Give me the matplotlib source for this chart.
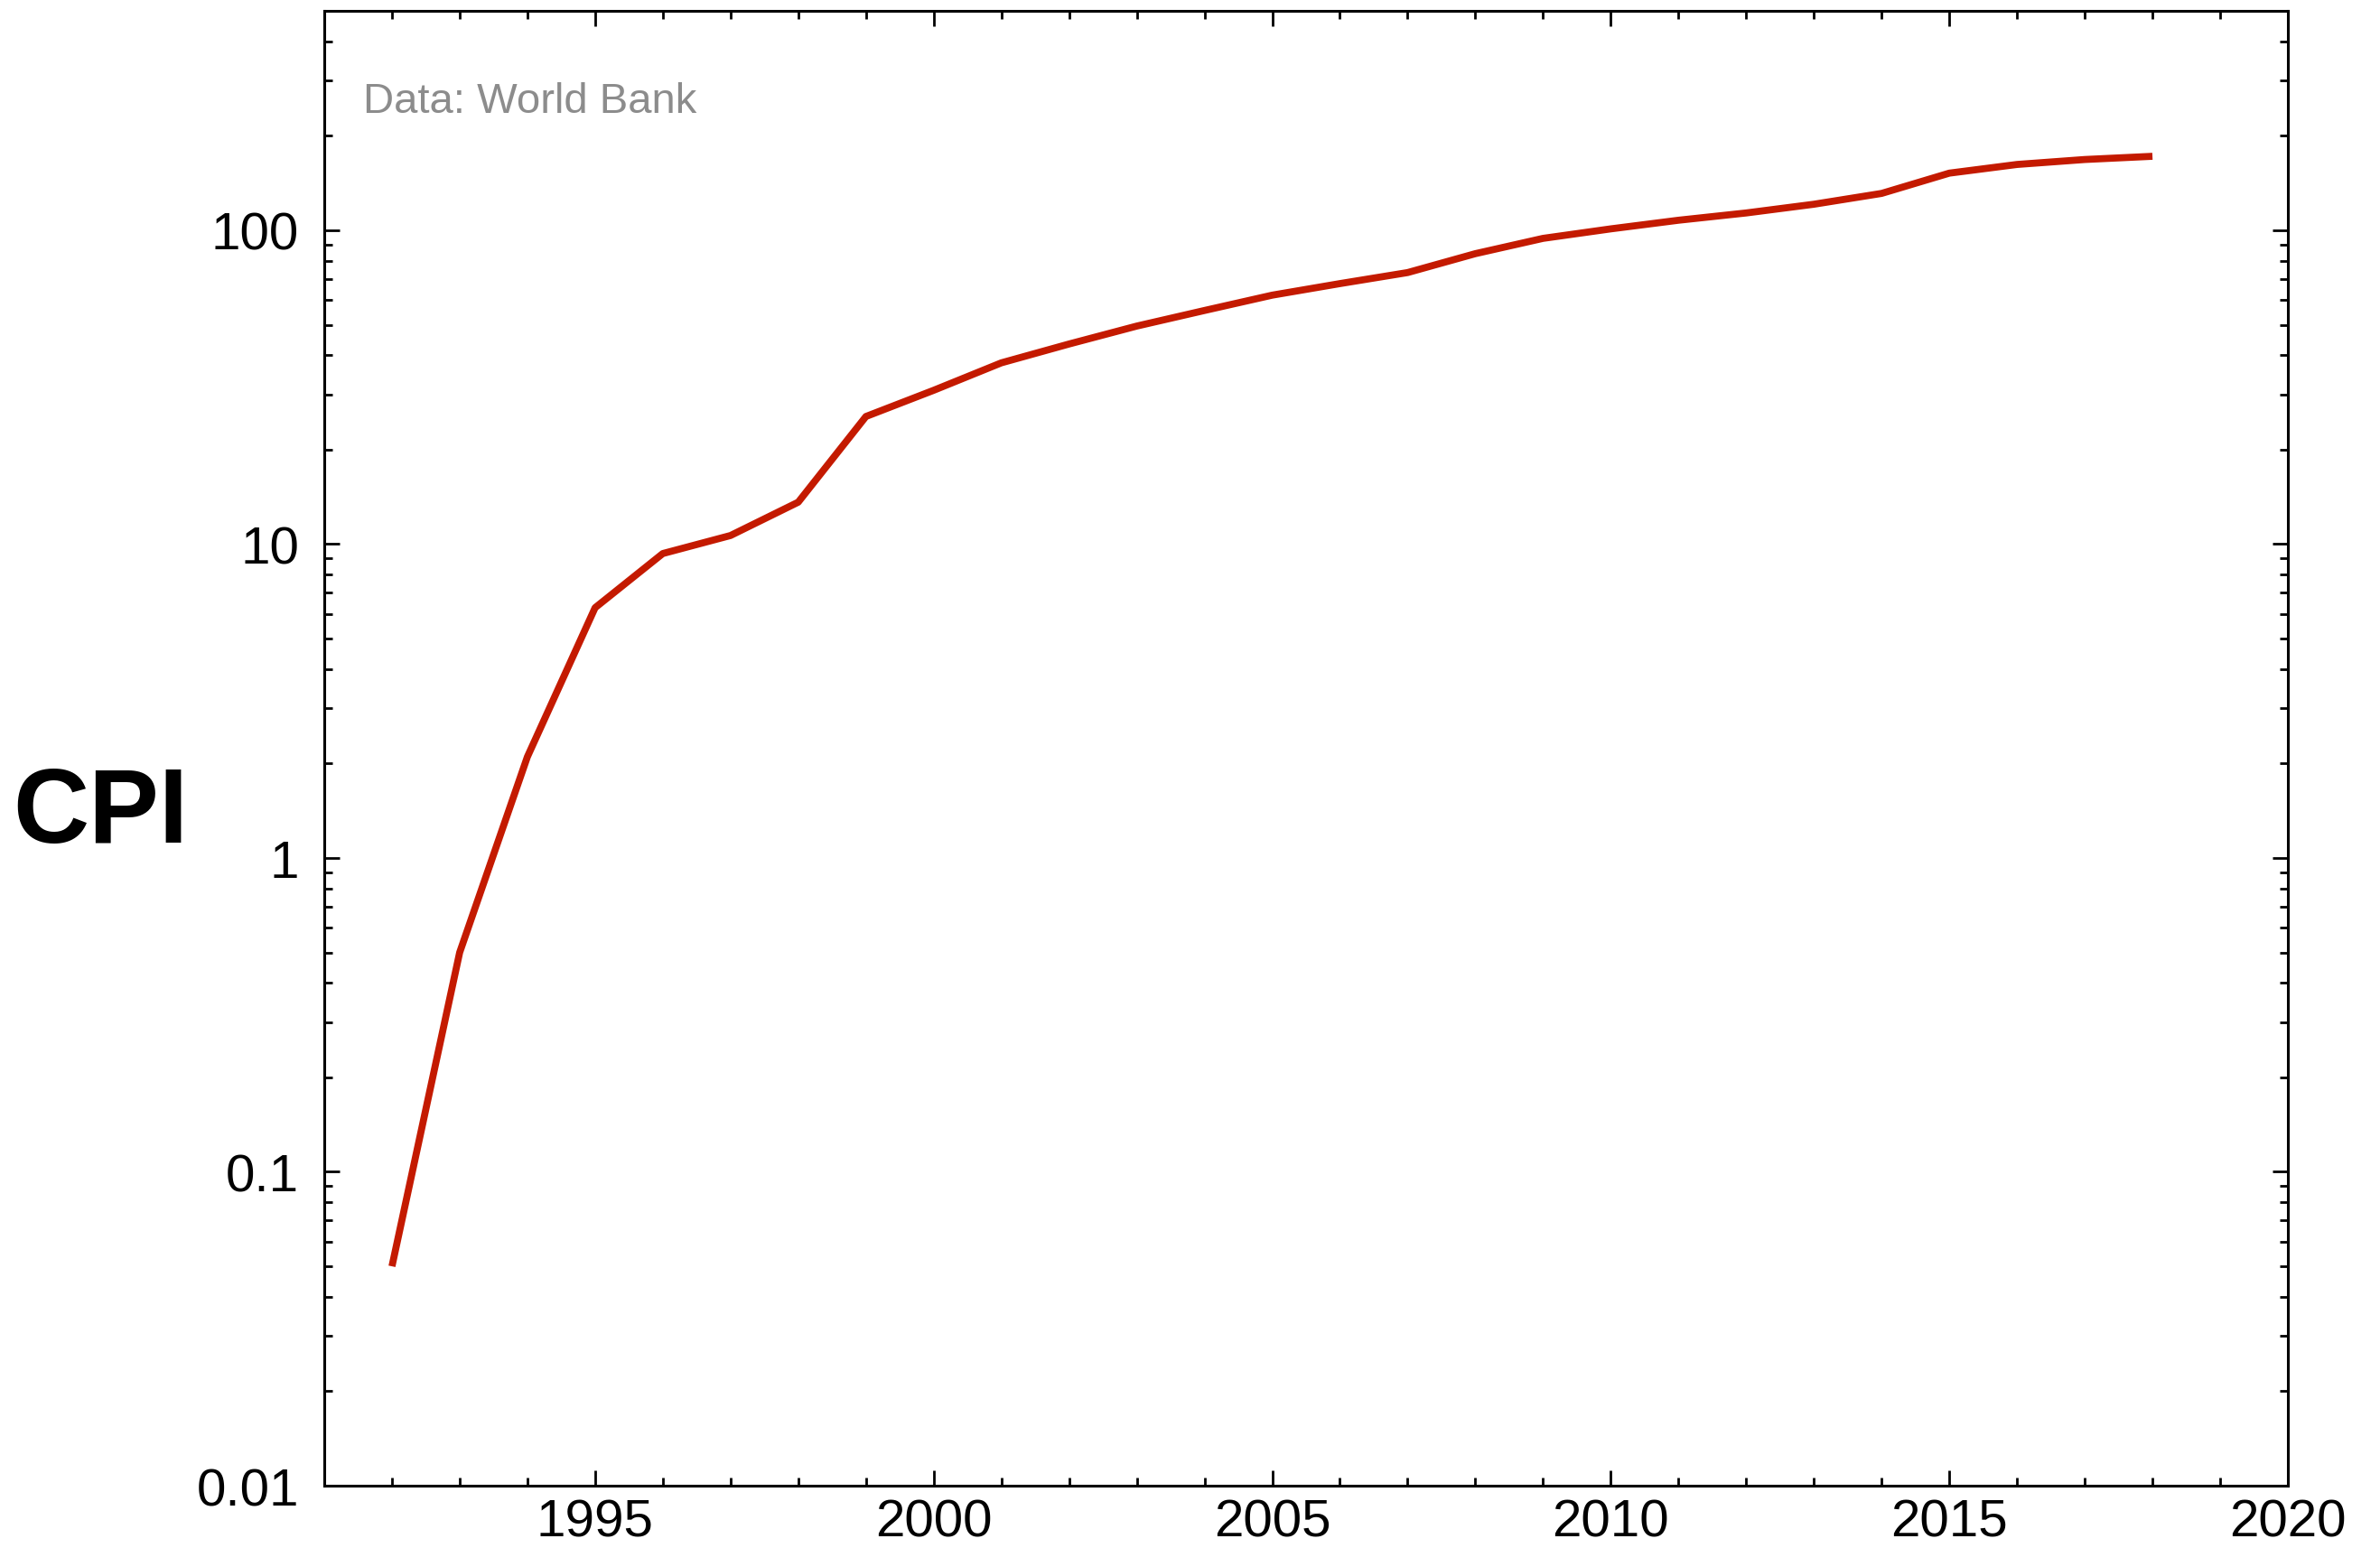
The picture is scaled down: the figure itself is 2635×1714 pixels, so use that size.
import matplotlib
matplotlib.use("Agg")
import matplotlib.pyplot as plt
from matplotlib.ticker import FixedLocator, NullFormatter, MultipleLocator

plt.rcParams['font.family'] = ['Liberation Sans', 'DejaVu Sans']

years = list(range(1992, 2019))
cpi = [0.05, 0.50, 2.10, 6.27, 9.33, 10.65, 13.6, 25.5, 30.9, 37.8, 43.4, 49.5,
       55.5, 62.1, 67.6, 73.3, 84.2, 94.2, 101, 107.6, 113.5, 121, 131, 152,
       162, 168, 172]

ytick_vals = [0.01, 0.1, 1, 10, 100]
ytick_labels = ["0.01", "0.1", "1", "10", "100"]
xtick_vals = [1995, 2000, 2005, 2010, 2015, 2020]
xtick_labels = ["1995", "2000", "2005", "2010", "2015", "2020"]

fig = plt.figure(figsize=(13.175, 8.575), dpi=200)
ax = fig.add_axes([0.13624, 0.04023, 0.82505, 0.95219])

ax.plot(years, cpi, color="#C41A00", lw=2.8, solid_capstyle="butt", solid_joinstyle="round")

ax.set_yscale("log")
ax.set_ylim(0.01, 500)
ax.set_xlim(1991, 2020)

ax.yaxis.set_major_locator(FixedLocator(ytick_vals))
ax.set_yticklabels(ytick_labels)
minor = [m * 10.0**e for e in range(-2, 3) for m in range(2, 10)]
ax.yaxis.set_minor_locator(FixedLocator(minor))
ax.yaxis.set_minor_formatter(NullFormatter())

ax.xaxis.set_major_locator(FixedLocator(xtick_vals))
ax.set_xticklabels(xtick_labels)
ax.xaxis.set_minor_locator(MultipleLocator(1))

ax.tick_params(which="both", direction="in", top=True, right=True, width=1.0, colors="black")
ax.tick_params(which="major", length=6)
ax.tick_params(which="minor", length=3.2)
ax.tick_params(axis="both", which="major", labelsize=21)
ax.tick_params(axis="y", which="major", pad=10)
ax.tick_params(axis="x", which="major", pad=5)

for s in ax.spines.values():
    s.set_linewidth(1.1)

fig.text(0.0421, 0.474, "CPI", fontsize=42, fontweight="bold", ha="center", va="center")
ax.text(0.1526, 0.9271, "Data: World Bank", transform=fig.transFigure, fontsize=17,
        color="#8c8c8c", ha="left", va="baseline")

fig.savefig("out.png", dpi=200)
